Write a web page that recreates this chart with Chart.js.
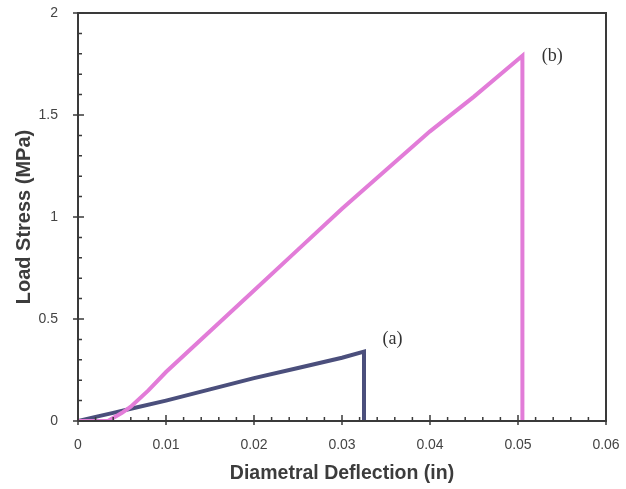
<!DOCTYPE html>
<html>
<head>
<meta charset="utf-8">
<script src="https://cdn.jsdelivr.net/npm/chart.js@4"></script>
<style>
  html, body { margin: 0; padding: 0; background: #fff; }
  #wrap { width: 626px; height: 489px; }
</style>
</head>
<body>
<div id="wrap"><canvas id="chartDeflection"></canvas></div>
<script>
// curve (a): deflection (in) / stress (MPa)
var defA = [0, 0.002, 0.004, 0.006, 0.010, 0.015, 0.020, 0.025, 0.030, 0.0325, 0.0325];
var stressA = [0, 0.02, 0.04, 0.06, 0.10, 0.155, 0.21, 0.26, 0.31, 0.34, 0];

// curve (b)
var defB = [0, 0.0034, 0.005, 0.006, 0.008, 0.010, 0.015, 0.020, 0.025, 0.030, 0.035, 0.040, 0.045, 0.0505, 0.0505];
var stressB = [0, 0, 0.04, 0.07, 0.15, 0.24, 0.44, 0.64, 0.84, 1.04, 1.23, 1.42, 1.59, 1.79, 0];

// curve labels
var curveLabels = ["(a)", "(b)"];
var labelX = [0.0346, 0.0527];
var labelY = [0.40, 1.79];

var xTicks = [0, 0.01, 0.02, 0.03, 0.04, 0.05, 0.06];
var yTicks = [0, 0.5, 1, 1.5, 2];

var toPoints = function(xs, ys) {
    return xs.map(function(x, i) { return { x: x, y: ys[i] }; });
};

// 축 눈금 (안쪽 보조 눈금) + 위/오른쪽 테두리 + 곡선 라벨
var framePlugin = {
    id: 'frame',
    afterDatasetsDraw: function(chart) {
        var ctx = chart.ctx;
        var a = chart.chartArea;
        var sx = chart.scales.x, sy = chart.scales.y;
        ctx.save();
        ctx.strokeStyle = '#3a3a3a';
        ctx.lineWidth = 2;
        ctx.beginPath();
        ctx.moveTo(a.left, a.bottom);
        ctx.lineTo(a.left, a.top);
        ctx.lineTo(a.right, a.top);
        ctx.lineTo(a.right, a.bottom);
        ctx.lineTo(a.left, a.bottom);
        ctx.stroke();

        ctx.lineWidth = 1.5;
        ctx.beginPath();
        // x 눈금: 0.002 간격
        for (var i = 0; i <= 30; i++) {
            var px = sx.getPixelForValue(i * 0.002);
            var major = (i % 5 === 0);
            ctx.moveTo(px, a.bottom + (major ? 4 : 0));
            ctx.lineTo(px, a.bottom - (major ? 6 : 4));
        }
        // y 눈금: 0.1 간격
        for (var j = 0; j <= 20; j++) {
            var py = sy.getPixelForValue(j * 0.1);
            var maj = (j % 5 === 0);
            ctx.moveTo(a.left - (maj ? 5 : 0), py);
            ctx.lineTo(a.left + (maj ? 6 : 4), py);
        }
        ctx.stroke();

        ctx.fillStyle = '#333';
        ctx.font = '18px "Liberation Serif"';
        ctx.textAlign = 'left';
        ctx.textBaseline = 'middle';
        curveLabels.forEach(function(t, k) {
            ctx.fillText(t, sx.getPixelForValue(labelX[k]), sy.getPixelForValue(labelY[k]));
        });
        ctx.restore();
    }
};

var tickFont = { family: '"Liberation Sans", Arial', size: 14 };

new Chart(document.getElementById('chartDeflection').getContext('2d'), {
    type: 'scatter',
    data: {
        datasets: [{
            label: '(b)',
            data: toPoints(defB, stressB),
            showLine: true,
            borderColor: '#e27cd8',
            borderWidth: 4,
            pointRadius: 0,
            tension: 0
        }, {
            label: '(a)',
            data: toPoints(defA, stressA),
            showLine: true,
            borderColor: '#4b4f7c',
            borderWidth: 4,
            pointRadius: 0,
            tension: 0
        }]
    },
    options: {
        responsive: true,
        maintainAspectRatio: false,
        animation: false,
        layout: { padding: { top: 13, right: 20, left: 0, bottom: 0 } },
        plugins: { legend: { display: false }, tooltip: { enabled: false } },
        scales: {
            x: {
                type: 'linear',
                min: 0, max: 0.06,
                afterBuildTicks: function(s) { s.ticks = xTicks.map(function(v) { return { value: v }; }); },
                afterFit: function(s) { s.height = 68; s.paddingLeft = 0; s.paddingRight = 0; },
                grid: { display: false },
                border: { display: false },
                ticks: {
                    padding: 8, color: '#444', font: tickFont, maxRotation: 0,
                    callback: function(v) { return String(v); }
                },
                title: {
                    display: true, text: 'Diametral Deflection (in)', color: '#3c3c3c',
                    font: { family: '"Liberation Sans", Arial', size: 19.5, weight: 'bold' },
                    padding: { top: 5 }
                }
            },
            y: {
                min: 0, max: 2,
                afterBuildTicks: function(s) { s.ticks = yTicks.map(function(v) { return { value: v }; }); },
                afterFit: function(s) { s.width = 78; s.paddingTop = 0; s.paddingBottom = 0; },
                grid: { display: false },
                border: { display: false },
                ticks: {
                    padding: 12, color: '#444', font: tickFont,
                    callback: function(v) { return String(v); }
                },
                title: {
                    display: true, text: 'Load Stress (MPa)', color: '#3c3c3c',
                    font: { family: '"Liberation Sans", Arial', size: 20, weight: 'bold' },
                    padding: { top: 12, bottom: 0 }
                }
            }
        }
    },
    plugins: [framePlugin]
});
</script>
</body>
</html>
